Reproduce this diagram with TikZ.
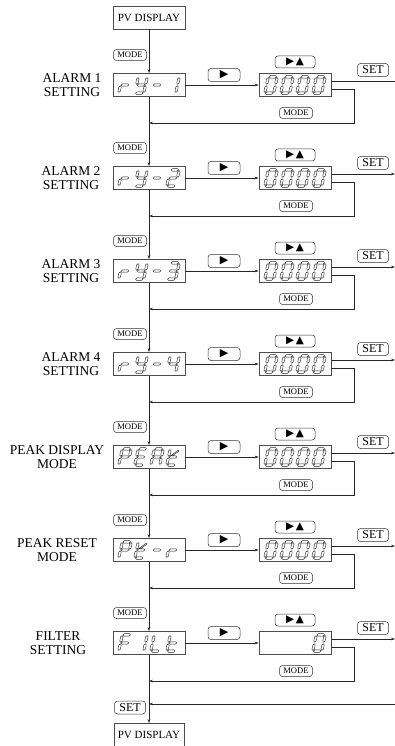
\documentclass[tikz,border=0pt]{standalone}
\usepackage{fontspec}
\setmainfont{Liberation Serif}
\newfontfamily\symf{DejaVu Sans}
\usetikzlibrary{arrows.meta,calc}
\newcommand\sgA{(-3.7,8.1) -- (-2.5,9.3) -- (2.5,9.3) -- (3.7,8.1) -- (2.5,6.9) -- (-2.5,6.9) -- cycle }
\newcommand\sgG{(-3.7,0) -- (-2.5,1.2) -- (2.5,1.2) -- (3.7,0) -- (2.5,-1.2) -- (-2.5,-1.2) -- cycle }
\newcommand\sgD{(-3.7,-8.1) -- (-2.5,-6.9) -- (2.5,-6.9) -- (3.7,-8.1) -- (2.5,-9.3) -- (-2.5,-9.3) -- cycle }
\newcommand\sgF{(-4.5,0.8) -- (-3.3,2.0) -- (-3.3,6.2) -- (-4.5,7.4) -- (-5.7,6.2) -- (-5.7,2.0) -- cycle }
\newcommand\sgB{(4.5,0.8) -- (5.7,2.0) -- (5.7,6.2) -- (4.5,7.4) -- (3.3,6.2) -- (3.3,2.0) -- cycle }
\newcommand\sgE{(-4.5,-7.4) -- (-3.3,-6.2) -- (-3.3,-2.0) -- (-4.5,-0.8) -- (-5.7,-2.0) -- (-5.7,-6.2) -- cycle }
\newcommand\sgC{(4.5,-7.4) -- (5.7,-6.2) -- (5.7,-2.0) -- (4.5,-0.8) -- (3.3,-2.0) -- (3.3,-6.2) -- cycle }
\newcommand\sgK{(-2.4,1.4) -- (3.6,6.8) -- (4.8,6.1) -- (-0.5,1.4) -- cycle }
\newcommand\dg[3]{\draw[seg,shift={(#1,#2)},xslant=0.22] #3;}
\newcommand\zeroes[1]{%
  \dg{271}{#1}{\sgA\sgB\sgC\sgD\sgE\sgF}
  \dg{287}{#1}{\sgA\sgB\sgC\sgD\sgE\sgF}
  \dg{303}{#1}{\sgA\sgB\sgC\sgD\sgE\sgF}
  \dg{319}{#1}{\sgA\sgB\sgC\sgD\sgE\sgF}}
\tikzset{
  line/.style={draw=black!85, line width=0.5pt},
  arr/.style={line, -{Stealth[length=4pt,width=2.6pt]}},
  seg/.style={draw=black!85, line width=0.45pt, fill=white},
  disp/.style={draw=black!70, line width=0.6pt, minimum width=72pt, minimum height=23pt, inner sep=0pt},
  key/.style={draw=black!80, line width=0.5pt, rounded corners=3pt, inner sep=0pt,
    minimum width=33pt, minimum height=11pt, font=\fontsize{8.6}{8.6}\selectfont},
  setkey/.style={key, minimum width=31pt, minimum height=13pt, font=\fontsize{12}{12}\selectfont},
  lbl/.style={align=center, font=\fontsize{13.5}{14.5}\selectfont, inner sep=0pt},
  pv/.style={draw=black!70, line width=0.6pt, minimum width=72pt, minimum height=23pt, inner sep=0pt,
    font=\fontsize{11}{11}\selectfont}
}
% #1 id, #2 cy, #3 label x, #4 label, #5 style of the SET line
\newcommand\blk[5]{%
  \node[disp] (d#1) at (149,-#2) {};
  \node[disp] (v#1) at (295,-#2) {};
  \node[lbl] (l#1) at (#3,-#2) {#4};
  \node[key] (m#1) at (130,-#2+30) {MODE};
  \node[key, minimum width=32pt, minimum height=13pt, font=\symf\fontsize{11}{11}\selectfont] (p#1) at (224,-#2+10) {▶};
  \node[key, minimum width=40pt, minimum height=12pt, font=\symf\fontsize{10.5}{10.5}\selectfont] (q#1) at (295,-#2+23) {▶\,▲};
  \node[setkey] (s#1) at (373,-#2+15) {SET};
  \node[key] (n#1) at (296,-#2-28) {MODE};
  \coordinate (e#1) at (395,-#2+4);
  \coordinate (k#1) at (354,-#2-38);
  \coordinate (j#1) at (149,-#2-38);
  \draw[arr] (d#1.east) -- (v#1.west);
  \draw[#5] ($(v#1.east)+(0,4)$) -- (e#1);
  \draw[arr] ($(v#1.east)+(0,-4)$) -| (k#1) -- (j#1);
}
\begin{document}
\begin{tikzpicture}[x=1pt,y=1pt]
\useasboundingbox (0,0) rectangle (395,-746);
\node[pv] (top) at (149,-17.5) {PV DISPLAY};
\node[pv, minimum width=70pt] (bot) at (149,-735) {PV DISPLAY};

\blk{1}{85}{72}{ALARM 1\\SETTING}{line}
\blk{2}{178}{71}{ALARM 2\\SETTING}{arr}
\blk{3}{271}{71}{ALARM 3\\SETTING}{arr}
\blk{4}{364}{71}{ALARM 4\\SETTING}{arr}
\blk{5}{457}{57}{PEAK DISPLAY\\MODE}{arr}
\blk{6}{550}{57}{PEAK RESET\\MODE}{arr}
\blk{7}{643}{58}{FILTER\\SETTING}{arr}

\draw[arr] (top.south) -- (d1.north);
\draw[arr] (d1.south) -- (d2.north);
\draw[arr] (d2.south) -- (d3.north);
\draw[arr] (d3.south) -- (d4.north);
\draw[arr] (d4.south) -- (d5.north);
\draw[arr] (d5.south) -- (d6.north);
\draw[arr] (d6.south) -- (d7.north);
\draw[arr] (d7.south) -- (bot.north);

\node[setkey] (sb) at (130,-707.5) {SET};
\coordinate (s0) at (395,-704);
\coordinate (s1) at (149,-704);
\draw[arr] (s0) -- (s1);

% rY-1
\dg{125}{-85}{\sgE\sgG}
\dg{141}{-85}{\sgF\sgB\sgG\sgC\sgD}
\dg{157}{-85}{\sgG}
\dg{173}{-85}{\sgB\sgC}
\zeroes{-85}
% rY-2
\dg{125}{-178}{\sgE\sgG}
\dg{141}{-178}{\sgF\sgB\sgG\sgC\sgD}
\dg{157}{-178}{\sgG}
\dg{173}{-178}{\sgA\sgB\sgG\sgE\sgD}
\zeroes{-178}
% rY-3
\dg{125}{-271}{\sgE\sgG}
\dg{141}{-271}{\sgF\sgB\sgG\sgC\sgD}
\dg{157}{-271}{\sgG}
\dg{173}{-271}{\sgA\sgB\sgG\sgC\sgD}
\zeroes{-271}
% rY-4
\dg{125}{-364}{\sgE\sgG}
\dg{141}{-364}{\sgF\sgB\sgG\sgC\sgD}
\dg{157}{-364}{\sgG}
\dg{173}{-364}{\sgF\sgG\sgB\sgC}
\zeroes{-364}
% PEAk
\dg{125}{-457}{\sgA\sgB\sgF\sgG\sgE}
\dg{141}{-457}{\sgA\sgF\sgG\sgE\sgD}
\dg{157}{-457}{\sgA\sgB\sgC\sgE\sgF\sgG}
\dg{173}{-457}{\sgF\sgE\sgG\sgD\sgK}
\zeroes{-457}
% Pk-r
\dg{125}{-550}{\sgA\sgB\sgF\sgG\sgE}
\dg{141}{-550}{\sgF\sgE\sgG\sgD\sgK}
\dg{157}{-550}{\sgG}
\dg{173}{-550}{\sgE\sgG}
\zeroes{-550}
% FILt
\dg{125}{-643}{\sgA\sgF\sgG\sgE}
\dg{141}{-643}{\sgB\sgC}
\dg{157}{-643}{\sgF\sgE\sgD}
\dg{173}{-643}{\sgF\sgE\sgG\sgD}
\dg{319}{-643}{\sgA\sgB\sgC\sgD\sgE\sgF}
\end{tikzpicture}
\end{document}
